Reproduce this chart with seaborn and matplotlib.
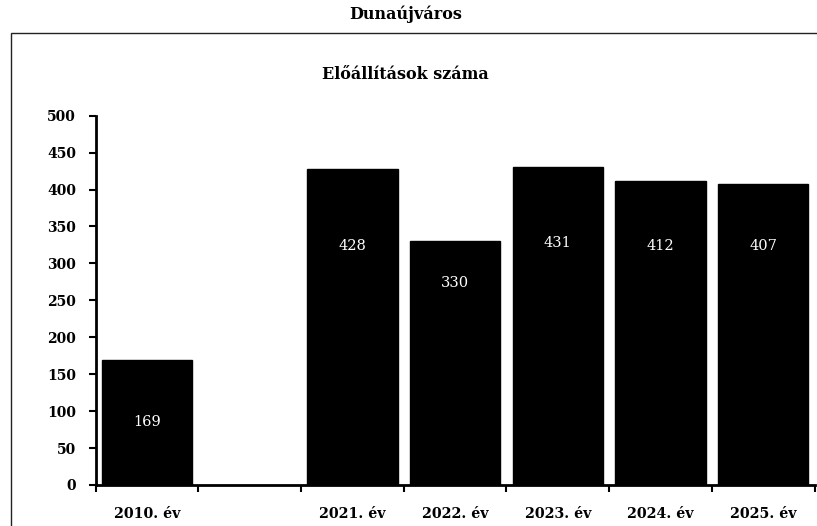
import matplotlib
matplotlib.use("Agg")
import matplotlib.pyplot as plt
import numpy as np
import pandas as pd
import seaborn as sns
from matplotlib.patches import Rectangle

# chart data
categories = ["2010. év", "", "2021. év", "2022. év", "2023. év", "2024. év", "2025. év"]
values = [169, np.nan, 428, 330, 431, 412, 407]
# where each value label sits (data units)
label_y = [85, np.nan, 324, 273, 328, 323, 323]
y_ticks = [0, 50, 100, 150, 200, 250, 300, 350, 400, 450, 500]

sns.set_theme(style="white")
plt.rcParams["font.family"] = ["DejaVu Serif"]
plt.rcParams["text.color"] = "black"
plt.rcParams["xtick.color"] = "black"
plt.rcParams["ytick.color"] = "black"

df = pd.DataFrame({"category": categories, "value": values})

fig = plt.figure(figsize=(8.17, 5.26), dpi=100)
ax = fig.add_axes([0.117, 0.078, 0.88, 0.702])

sns.barplot(data=df, x="category", y="value", order=categories,
            color="black", saturation=1, width=0.88, ax=ax)
for p in ax.patches:
    p.set_facecolor("black")
    p.set_edgecolor("black")

for i, (v, ly) in enumerate(zip(values, label_y)):
    if np.isnan(v):
        continue
    ax.text(i, ly, f"{v:.0f}", color="white", ha="center", va="center",
            fontsize=10.5)

ax.set_xlim(-0.5, len(categories) - 0.5)
ax.set_ylim(0, 500)
ax.set_yticks(y_ticks)
ax.set_yticklabels([str(t) for t in y_ticks], fontsize=10, fontweight="bold")

# x ticks sit on the category boundaries, labels in the middle
ax.set_xticks(np.arange(-0.5, len(categories), 1.0))
ax.set_xticklabels([])
ax.set_xticks(np.arange(len(categories)), minor=True)
ax.set_xticklabels(categories, minor=True, fontsize=10.3, fontweight="bold")
ax.tick_params(axis="x", which="major", direction="out", length=5, width=1.5,
               color="black", bottom=True)
ax.tick_params(axis="x", which="minor", length=0, pad=16)
ax.tick_params(axis="y", direction="out", length=5, width=1.5, color="black",
               left=True, pad=9)

ax.set_xlabel("")
ax.set_ylabel("")
for side in ["top", "right"]:
    ax.spines[side].set_visible(False)
for side in ["left", "bottom"]:
    ax.spines[side].set_color("black")
    ax.spines[side].set_linewidth(2)

# outer frame and titles
fig.patches.append(Rectangle((0.0135, -0.05), 1.2, 0.987, transform=fig.transFigure,
                             fill=False, edgecolor="#222222", linewidth=1.0))
fig.text(0.496, 0.972, "Dunaújváros", ha="center", va="center",
         fontsize=11.5, fontweight="bold")
fig.text(0.496, 0.858, "Előállítások száma", ha="center", va="center",
         fontsize=11.5, fontweight="bold")

fig.savefig("out.png", dpi=100)
